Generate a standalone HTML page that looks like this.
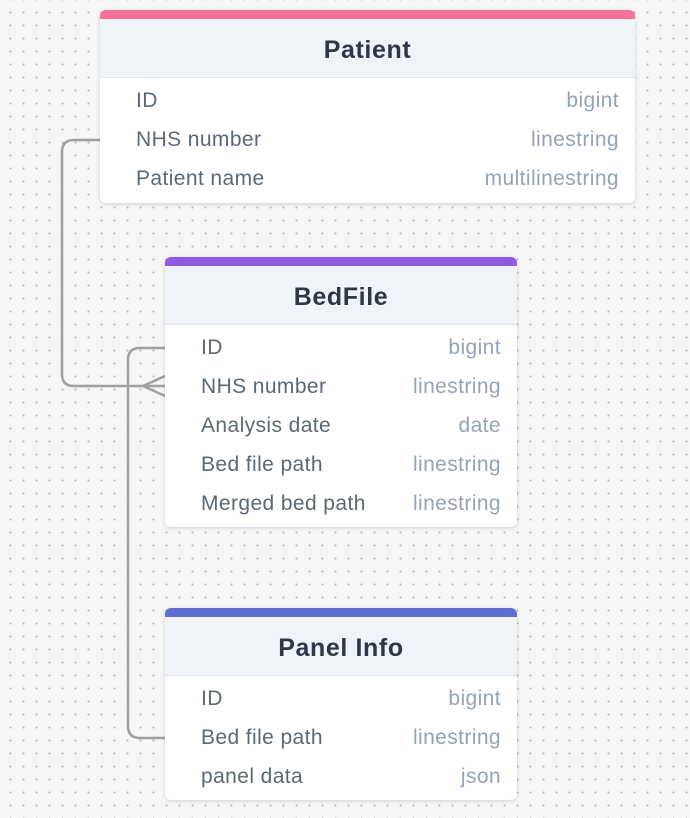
<!DOCTYPE html>
<html><head><style>
body{margin:0;width:690px;height:818px;overflow:hidden;background-color:#f6f6f6;background-image:radial-gradient(circle,#b8b8b8 0.8px,transparent 1.2px);background-size:13px 13px;background-position:4px 6px;font-family:"Liberation Sans",sans-serif;position:relative}
.t{position:absolute;background:#fff;border-radius:6px;box-shadow:0 1px 4px rgba(0,0,0,.15);overflow:hidden}
.bar{height:9px}
.h{height:58px;background:#f0f3f8;border-bottom:1px solid #dfe4ea;text-align:center;line-height:62px;font-size:25px;letter-spacing:.6px;font-weight:bold;color:#2d3748}
.r{height:39px;line-height:41px;font-size:21px;letter-spacing:.4px;color:#5b6878;padding:0 16px 0 36px;display:flex;justify-content:space-between}
.r span:last-child{color:#94a3b8}
</style></head><body>
<svg width="690" height="818" style="position:absolute;left:0;top:0">
<g fill="none" stroke="#a0a0a0" stroke-width="2.5">
<path d="M100 140 H74 Q62 140 62 152 V374 Q62 386 74 386 H165"/>
<path d="M165 348 H140 Q128 348 128 360 V726 Q128 738 140 738 H165"/>
<path d="M165 376 L143 386 L165 396"/>
</g></svg>
<div class="t" style="left:100px;top:10px;width:535px;height:193px"><div class="bar" style="background:#f6719a"></div><div class="h">Patient</div>
<div class="r" style="margin-top:2px"><span>ID</span><span>bigint</span></div><div class="r"><span>NHS number</span><span>linestring</span></div><div class="r"><span>Patient name</span><span>multilinestring</span></div></div>
<div class="t" style="left:165px;top:257px;width:352px;height:270px"><div class="bar" style="background:#8e5ae0"></div><div class="h">BedFile</div>
<div class="r" style="margin-top:2px"><span>ID</span><span>bigint</span></div><div class="r"><span>NHS number</span><span>linestring</span></div><div class="r"><span>Analysis date</span><span>date</span></div><div class="r"><span>Bed file path</span><span>linestring</span></div><div class="r"><span>Merged bed path</span><span>linestring</span></div></div>
<div class="t" style="left:165px;top:608px;width:352px;height:192px"><div class="bar" style="background:#5f6fd0"></div><div class="h">Panel Info</div>
<div class="r" style="margin-top:2px"><span>ID</span><span>bigint</span></div><div class="r"><span>Bed file path</span><span>linestring</span></div><div class="r"><span>panel data</span><span>json</span></div></div>
</body></html>
